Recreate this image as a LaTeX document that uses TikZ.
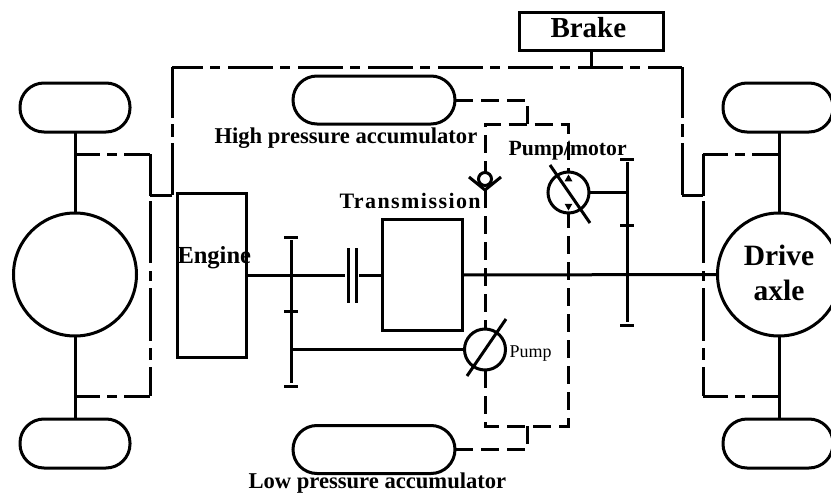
\documentclass[tikz,border=0pt]{standalone}
\usepackage{fontspec}
\setmainfont{Liberation Serif}
\usetikzlibrary{positioning, shapes.geometric, calc}

\begin{document}
\begin{tikzpicture}[
    x=1pt, y=-1pt, line width=3pt,
    sysbox/.style={draw, inner sep=0pt, outer sep=0pt, align=center},
    wheel/.style={sysbox, rounded corners=24pt, minimum width=110pt, minimum height=49pt},
    accum/.style={sysbox, rounded corners=24pt, minimum width=162pt, minimum height=48pt},
    hub/.style={sysbox, circle, minimum size=123pt},
    unit/.style={sysbox, circle, minimum size=41pt},
    tick/.style={fill, inner sep=0pt, minimum width=14pt, minimum height=3pt},
    plate/.style={fill, inner sep=0pt, minimum width=3pt, minimum height=55pt},
    tip/.style={fill, regular polygon, regular polygon sides=3, inner sep=0pt, minimum size=9pt},
    textlabel/.style={inner sep=0pt, anchor=base west, font=\bfseries\fontsize{22.6}{26}\selectfont},
    oilline/.style={dash pattern=on 18pt off 8pt},
    tapbar/.style={dash pattern=on 25pt off 7pt on 10pt off 7pt on 40pt},
    tapdrop/.style={dash pattern=on 42pt off 5pt on 62pt off 8pt on 10pt off 7pt on 53pt off 7pt on 12pt off 7pt on 45pt},
    brakebar/.style={dash pattern=on 45pt off 7pt on 10pt off 8pt, dash phase=14pt},
    brakedrop/.style={dash pattern=on 51pt off 6pt on 13pt off 6pt on 60pt},
]
    \useasboundingbox (0,0) rectangle (831,493);

    % wheels and axles
    \node[wheel] (wheellt) at (75,107.5) {};
    \node[wheel] (wheellb) at (75,443.5) {};
    \node[wheel] (wheelrt) at (778,107.5) {};
    \node[wheel] (wheelrb) at (778,443.5) {};
    \node[hub] (hubl) at (75,274.5) {};
    \node[hub] (axle) at (779,274.5) {};
    \node[inner sep=0pt, align=center, font=\bfseries\fontsize{29.5}{35}\selectfont] (axlelabel) at (779,273) {Drive\\axle};
    \draw (wheellt) -- (hubl);
    \draw (hubl) -- (wheellb);
    \draw (wheelrt.south -| axle) -- (axle);
    \draw (axle) -- (wheelrb.north -| axle);

    % driveline
    \node[sysbox, minimum width=69pt, minimum height=164pt] (engine) at (211.5,275) {};
    \node[textlabel, font=\bfseries\fontsize{24.5}{28}\selectfont] (enginelabel) at (176,263) {Engine};
    \node[sysbox, minimum width=80pt, minimum height=111pt] (trans) at (422,275) {};
    \node[textlabel, font=\bfseries\fontsize{22}{26}\selectfont\addfontfeature{LetterSpace=6.5}] (translabel) at (338,208) {Transmission};
    \node[plate] (clutcha) at (348,275) {};
    \node[plate] (clutchb) at (356,275) {};
    \draw (engine.east) -- (clutcha);
    \draw (clutchb) -- (trans.west);
    \draw (trans.east) -- (axle.west);

    % gear shafts
    \node[tick] (gearat) at (291,237) {};
    \node[tick] (gearam) at (291,311) {};
    \node[tick] (gearab) at (291,386) {};
    \draw (gearat) -- (gearab);
    \node[tick] (gearbt) at (627,159) {};
    \node[tick] (gearbm) at (627,225) {};
    \node[tick] (gearbb) at (627,325) {};
    \draw (gearbt) -- (gearbb);

    % pumps
    \node[unit] (pump) at (485,349.5) {};
    \node[textlabel, font=\fontsize{18}{20}\selectfont] (pumplabel) at (508,357) {Pump};
    \coordinate (pumpa) at (467,376);
    \coordinate (pumpb) at (506,319);
    \draw (pumpa) -- (pumpb);
    \draw (pump.west -| gearab) -- (pump.west);

    \node[unit] (motor) at (568.5,192.5) {};
    \node[textlabel, font=\bfseries\fontsize{21.7}{26}\selectfont] (motorlabel) at (507,155) {Pump/motor};
    \coordinate (motora) at (550,165);
    \coordinate (motorb) at (590,223);
    \draw (motora) -- (motorb);
    \draw (motor.east) -- (motor.east -| gearbt);
    \node[tip] (tipa) at (568.5,179) {};
    \node[tip, rotate=180] (tipb) at (568.5,206) {};

    % accumulators
    \node[accum] (hpa) at (374,100) {};
    \node[textlabel] (hpalabel) at (213,143) {High pressure accumulator};
    \node[accum] (lpa) at (374,449.5) {};
    \node[textlabel] (lpalabel) at (247,488) {Low pressure accumulator};

    % check valve
    \node[sysbox, circle, minimum size=13pt] (check) at (485,179) {};
    \coordinate (checkl) at (469,177);
    \coordinate (checkr) at (501,177);
    \coordinate (checkb) at (485,190);
    \draw (checkl) -- (checkb) -- (checkr);

    % oil circuit
    \coordinate (hptee) at (527,124);
    \coordinate (lptee) at (527,426);
    \draw[oilline] (hpa.east) -| (hptee);
    \draw[oilline] (lpa.east) -| (lptee);
    \draw[oilline, dash phase=6pt] (check.north) |- (hptee) -| (motor.north);
    \draw[oilline] (checkb) -- (pump.north);
    \draw[oilline] (pump.south) |- (lptee) -| (motor.south);

    % brake lines
    \node[sysbox, minimum width=144pt, minimum height=38pt] (brake) at (591,31) {};
    \node[textlabel, font=\bfseries\fontsize{29}{32}\selectfont] (brakelabel) at (549,37) {Brake};
    \coordinate (braketee) at (brake |- 0,67);
    \coordinate (brakel) at (172,67);
    \coordinate (braker) at (682,67);
    \coordinate (tapl) at (150,195);
    \coordinate (tapr) at (703,195);
    \draw (brake) -- (braketee);
    \draw[brakebar] (brakel) -- (braker);
    \draw[brakedrop] (brakel) -- (brakel |- tapl);
    \draw[brakedrop] (braker) -- (braker |- tapr);
    \draw (brakel |- tapl) -- (tapl);
    \draw (braker |- tapr) -- (tapr);

    % axle tapping
    \coordinate (droplt) at (150,154);
    \coordinate (droplb) at (150,396);
    \coordinate (droprt) at (703,154);
    \coordinate (droprb) at (703,396);
    \draw[tapbar] (hubl |- droplt) -- (droplt);
    \draw[tapbar] (hubl |- droplb) -- (droplb);
    \draw[tapbar] (droprt) -- (axle |- droprt);
    \draw[tapbar] (droprb) -- (axle |- droprb);
    \draw[tapdrop] (droplt) -- (droplb);
    \draw[tapdrop] (droprt) -- (droprb);
\end{tikzpicture}
\end{document}
